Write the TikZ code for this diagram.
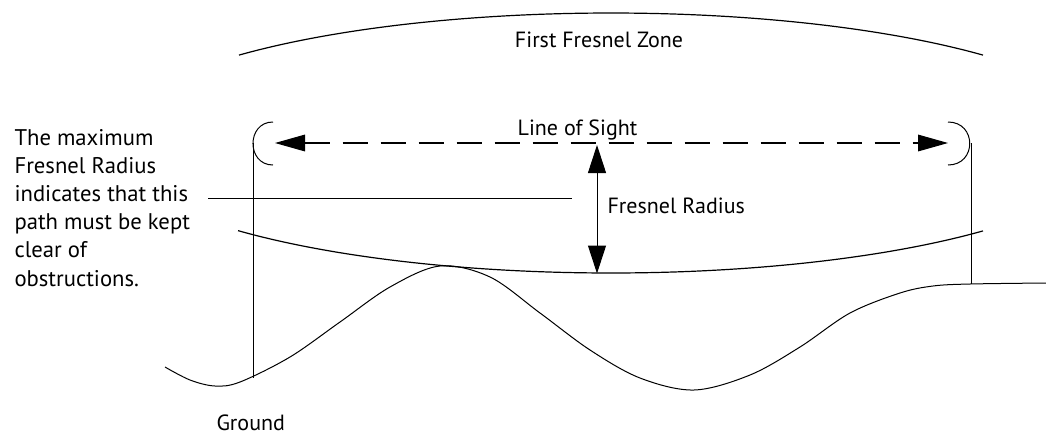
\documentclass[tikz,border=0pt]{standalone}
\usepackage{fontspec}
\setmainfont{PT Sans}
\usetikzlibrary{arrows.meta}
\tikzset{
  sighthead/.tip={Triangle[length=22.5pt,width=12.5pt]},
  radhead/.tip={Triangle[length=21pt,width=13.5pt]}}
\begin{document}
\begin{tikzpicture}[x=0.75pt,y=-0.75pt,line width=0.8pt,
  lbl/.style={font=\fontsize{16.5}{19}\selectfont,inner sep=0pt},
  bigl/.style={font=\fontsize{17}{21.15}\selectfont,inner sep=0pt,align=left},
  sight/.style={dash pattern=on 18.75pt off 9.75pt,line width=0.8pt},
  thin/.style={line width=0.75pt}]
\useasboundingbox (0,0) rectangle (1046,437);
% Fresnel zone ellipse arcs
\draw[line width=0.9pt] plot[domain=42.55:137.45,samples=90,variable=\t]
  ({611+505*cos(\t)},{143-130*sin(\t)});
\draw[line width=0.9pt] plot[domain=42.55:137.6,samples=90,variable=\t]
  ({611+505*cos(\t)},{143+130*sin(\t)});
% ground
\draw[thin] plot[smooth,tension=0.55] coordinates {
 (165,367) (190,380) (215,386) (240,382) (290,357) (340,322) (390,287)
 (440,266) (490,277) (540,313) (590,350) (640,378) (694,390) (750,375)
 (800,347) (850,313) (900,293) (933,286) (970,284) (1046,283)};
% antenna masts
\coordinate (lmast) at (253,143);
\coordinate (lfoot) at (253,378);
\coordinate (rmast) at (971,143);
\coordinate (rfoot) at (971,284);
\draw[thin] (lmast) -- (lfoot);
\draw[thin] (rmast) -- (rfoot);
% brackets
\draw[thin] (273,122) .. controls (246.3,122) and (246.3,165) .. (273,165);
\draw[thin] (948,122) .. controls (977,122) and (977,165) .. (948,165);
% line of sight
\coordinate (ltip) at (275,143);
\coordinate (rtip) at (948,143);
\draw[sight,sighthead-sighthead] (ltip) -- (rtip);
% Fresnel radius
\coordinate (ftop) at (597,145);
\coordinate (fbot) at (597,273.5);
\draw[thin,radhead-radhead] (ftop) -- (fbot);
% leader
\coordinate (lead1) at (208,198);
\coordinate (lead2) at (572,198);
\draw[thin] (lead1) -- (lead2);
% texts
\node[lbl,anchor=base] (fz) at (599,47) {First Fresnel Zone};
\node[lbl,anchor=base] (los) at (577.5,135) {Line of Sight};
\node[lbl,anchor=base west] (fr) at (607,213) {Fresnel Radius};
\node[lbl,anchor=base west] (gr) at (216,430) {Ground};
\node[bigl,anchor=base west] (note) at (14,286) {The maximum\\Fresnel Radius\\indicates that this\\path must be kept\\clear of\\obstructions.};
\end{tikzpicture}
\end{document}
